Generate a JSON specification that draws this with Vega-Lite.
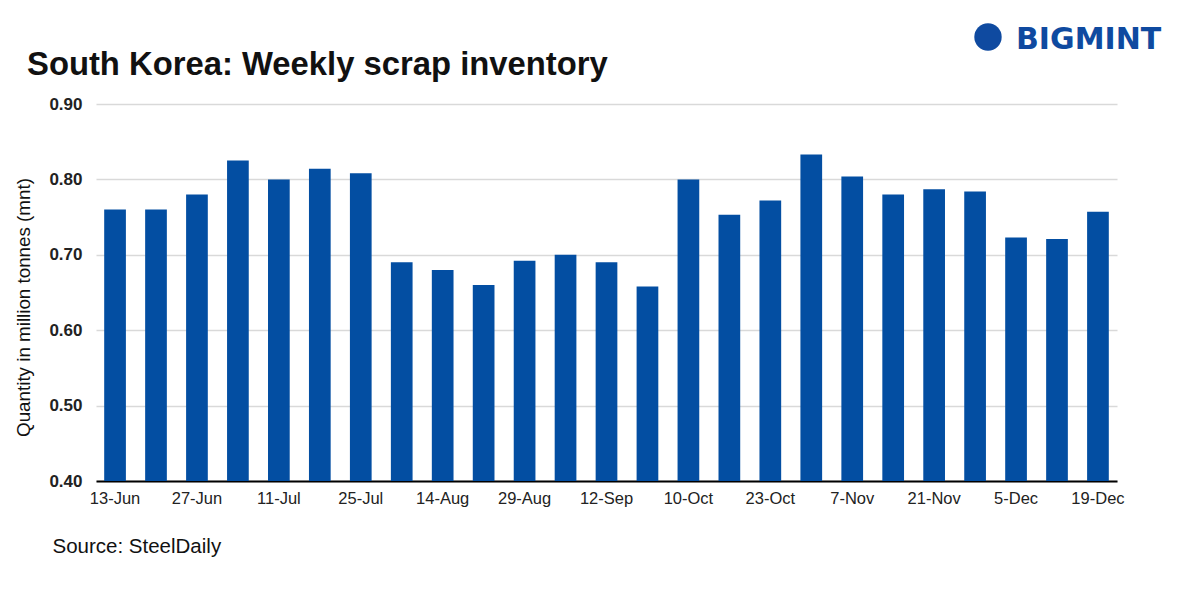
{
  "$schema": "https://vega.github.io/schema/vega-lite/v6.json",
  "autosize": {"type": "none"},
  "width": 1021,
  "height": 377,
  "padding": {"left": 96, "top": 104, "right": 64, "bottom": 110},
  "background": "white",
  "config": {"view": {"stroke": null}, "font": "Liberation Sans"},
  "title": {
    "text": "South Korea: Weekly scrap inventory",
    "anchor": "start",
    "frame": "group",
    "dx": -69,
    "dy": 58,
    "offset": 0,
    "fontSize": 32.8,
    "fontWeight": "bold",
    "font": "Liberation Sans",
    "color": "#111111"
  },
  "data": {
    "values": [
      {"week": "13-Jun", "value": 0.760},
      {"week": "20-Jun", "value": 0.760},
      {"week": "27-Jun", "value": 0.780},
      {"week": "4-Jul", "value": 0.825},
      {"week": "11-Jul", "value": 0.800},
      {"week": "18-Jul", "value": 0.814},
      {"week": "25-Jul", "value": 0.808},
      {"week": "1-Aug", "value": 0.690},
      {"week": "14-Aug", "value": 0.680},
      {"week": "22-Aug", "value": 0.660},
      {"week": "29-Aug", "value": 0.692},
      {"week": "5-Sep", "value": 0.700},
      {"week": "12-Sep", "value": 0.690},
      {"week": "19-Sep", "value": 0.658},
      {"week": "10-Oct", "value": 0.800},
      {"week": "17-Oct", "value": 0.753},
      {"week": "23-Oct", "value": 0.772},
      {"week": "31-Oct", "value": 0.833},
      {"week": "7-Nov", "value": 0.804},
      {"week": "14-Nov", "value": 0.780},
      {"week": "21-Nov", "value": 0.787},
      {"week": "28-Nov", "value": 0.784},
      {"week": "5-Dec", "value": 0.723},
      {"week": "12-Dec", "value": 0.721},
      {"week": "19-Dec", "value": 0.757}
    ]
  },
  "layer": [
    {
      "mark": {"type": "bar", "color": "#034ea2"},
      "encoding": {
        "x": {
          "field": "week",
          "type": "nominal",
          "sort": null,
          "scale": {"paddingInner": 0.47, "paddingOuter": 0.2},
          "axis": {
            "values": ["13-Jun", "27-Jun", "11-Jul", "25-Jul", "14-Aug", "29-Aug", "12-Sep", "10-Oct", "23-Oct", "7-Nov", "21-Nov", "5-Dec", "19-Dec"],
            "labelAngle": 0,
            "labelFontSize": 16.5,
            "labelColor": "#222222",
            "labelFont": "Liberation Sans",
            "labelPadding": 9,
            "ticks": false,
            "domainColor": "#000000",
            "domainWidth": 2,
            "title": "Source: SteelDaily",
            "titleFontSize": 20.5,
            "titleFontWeight": "normal",
            "titleColor": "#111111",
            "titleFont": "Liberation Sans",
            "titleAnchor": "start",
            "titleAlign": "left",
            "titleBaseline": "alphabetic",
            "titleX": -44,
            "titleY": 71
          }
        },
        "y": {
          "field": "value",
          "type": "quantitative",
          "scale": {"domain": [0.4, 0.9], "zero": false, "nice": false},
          "axis": {
            "values": [0.4, 0.5, 0.6, 0.7, 0.8, 0.9],
            "format": ".2f",
            "grid": true,
            "gridColor": "#d9d9d9",
            "gridWidth": 1.5,
            "domain": false,
            "ticks": false,
            "labelFontSize": 17,
            "labelFontWeight": "bold",
            "labelColor": "#222222",
            "labelFont": "Liberation Sans",
            "labelPadding": 14,
            "title": "Quantity in million tonnes (mnt)",
            "titleFontSize": 18.8,
            "titleFontWeight": "normal",
            "titleColor": "#111111",
            "titleFont": "Liberation Sans",
            "titleAlign": "center",
            "titleBaseline": "middle",
            "titleX": -73,
            "titleY": 203
          }
        },
        "y2": {"datum": 0.4}
      }
    },
    {
      "data": {"values": [{"logo": "BIGMINT"}]},
      "mark": {"type": "text", "align": "left", "baseline": "middle", "fontSize": 30, "fontWeight": "bold", "font": "DejaVu Sans", "color": "#0f4aa0", "clip": false},
      "encoding": {
        "text": {"field": "logo"},
        "x": {"value": 920},
        "y": {"value": -64}
      }
    },
    {
      "data": {"values": [{"logo": "icon"}]},
      "mark": {"type": "point", "shape": "circle", "filled": true, "size": 750, "color": "#0f4aa0", "opacity": 1, "clip": false},
      "encoding": {
        "x": {"value": 892},
        "y": {"value": -67}
      }
    }
  ]
}
